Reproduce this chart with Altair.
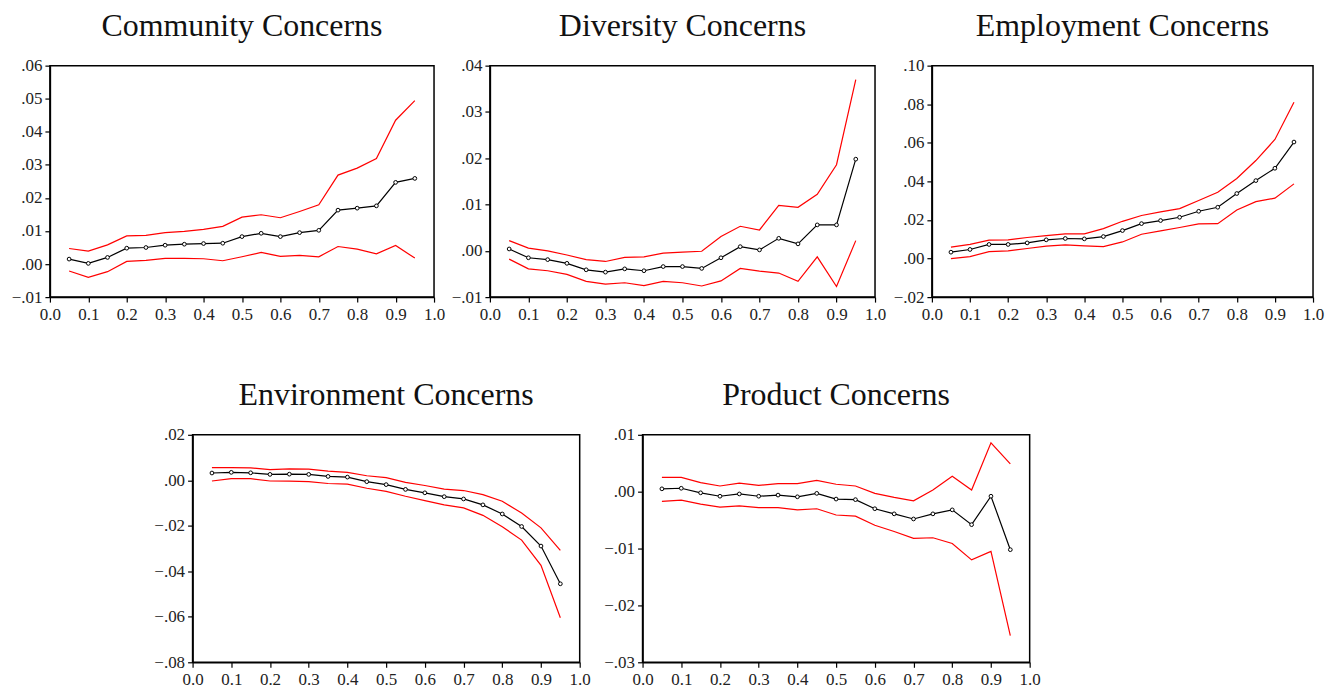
import altair as alt
import pandas as pd

FONT = "Liberation Serif"

q = [0.05, 0.10, 0.15, 0.20, 0.25, 0.30, 0.35, 0.40, 0.45, 0.50,
     0.55, 0.60, 0.65, 0.70, 0.75, 0.80, 0.85, 0.90, 0.95]
x_ticks = [0.0, 0.1, 0.2, 0.3, 0.4, 0.5, 0.6, 0.7, 0.8, 0.9, 1.0]

# Community Concerns
com_mean = [0.0015, 0.0002, 0.0020, 0.0048, 0.0050, 0.0057, 0.0060, 0.0062, 0.0063, 0.0083,
            0.0093, 0.0083, 0.0095, 0.0102, 0.0163, 0.0169, 0.0176, 0.0247, 0.0259]
com_upper = [0.0047, 0.0039, 0.0058, 0.0085, 0.0087, 0.0095, 0.0099, 0.0105, 0.0114, 0.0142,
             0.0149, 0.0140, 0.0159, 0.0179, 0.0269, 0.0290, 0.0319, 0.0435, 0.0494]
com_lower = [-0.0021, -0.0040, -0.0023, 0.0008, 0.0011, 0.0017, 0.0017, 0.0016, 0.0010, 0.0022,
             0.0035, 0.0023, 0.0026, 0.0022, 0.0053, 0.0045, 0.0031, 0.0056, 0.0018]
com_ticks = [-0.01, 0.0, 0.01, 0.02, 0.03, 0.04, 0.05, 0.06]

# Diversity Concerns
div_mean = [0.0004, -0.0015, -0.0019, -0.0027, -0.0041, -0.0046, -0.0039, -0.0043, -0.0034, -0.0034,
            -0.0038, -0.0015, 0.0009, 0.0002, 0.0027, 0.0015, 0.0056, 0.0056, 0.0198]
div_upper = [0.0022, 0.0006, 0.0000, -0.0009, -0.0019, -0.0023, -0.0014, -0.0013, -0.0005, -0.0003,
             -0.0001, 0.0031, 0.0053, 0.0045, 0.0098, 0.0094, 0.0122, 0.0186, 0.0370]
div_lower = [-0.0018, -0.0039, -0.0043, -0.0051, -0.0066, -0.0072, -0.0069, -0.0075, -0.0066, -0.0069,
             -0.0076, -0.0065, -0.0038, -0.0044, -0.0048, -0.0066, -0.0013, -0.0077, 0.0022]
div_ticks = [-0.01, 0.0, 0.01, 0.02, 0.03, 0.04]

# Employment Concerns
emp_mean = [0.0033, 0.0047, 0.0073, 0.0073, 0.0081, 0.0097, 0.0104, 0.0102, 0.0114, 0.0145,
            0.0181, 0.0197, 0.0214, 0.0245, 0.0266, 0.0337, 0.0404, 0.0468, 0.0604]
emp_upper = [0.0059, 0.0073, 0.0095, 0.0097, 0.0109, 0.0119, 0.0128, 0.0128, 0.0155, 0.0193,
             0.0223, 0.0242, 0.0259, 0.0301, 0.0344, 0.0415, 0.0508, 0.0617, 0.0810]
emp_lower = [0.0000, 0.0010, 0.0036, 0.0040, 0.0052, 0.0064, 0.0071, 0.0066, 0.0062, 0.0086,
             0.0126, 0.0143, 0.0161, 0.0180, 0.0181, 0.0252, 0.0295, 0.0313, 0.0387]
emp_ticks = [-0.02, 0.0, 0.02, 0.04, 0.06, 0.08, 0.10]

# Environment Concerns
env_mean = [0.0032, 0.0035, 0.0033, 0.0026, 0.0027, 0.0026, 0.0017, 0.0014, -0.0006, -0.0019,
            -0.0040, -0.0055, -0.0072, -0.0082, -0.0108, -0.0148, -0.0203, -0.0289, -0.0455]
env_upper = [0.0056, 0.0056, 0.0055, 0.0047, 0.0050, 0.0049, 0.0040, 0.0035, 0.0020, 0.0012,
             -0.0009, -0.0023, -0.0039, -0.0045, -0.0063, -0.0092, -0.0144, -0.0209, -0.0308]
env_lower = [-0.0003, 0.0007, 0.0007, -0.0003, -0.0004, -0.0006, -0.0014, -0.0017, -0.0035, -0.0049,
             -0.0070, -0.0089, -0.0108, -0.0121, -0.0154, -0.0204, -0.0263, -0.0374, -0.0604]
env_ticks = [-0.08, -0.06, -0.04, -0.02, 0.0, 0.02]

# Product Concerns
pro_mean = [0.0005, 0.0006, -0.0002, -0.0008, -0.0004, -0.0008, -0.0006, -0.0009, -0.0003, -0.0013,
            -0.0014, -0.0030, -0.0039, -0.0048, -0.0039, -0.0032, -0.0058, -0.0008, -0.0102]
pro_upper = [0.0025, 0.0025, 0.0016, 0.0010, 0.0015, 0.0011, 0.0014, 0.0014, 0.0020, 0.0013,
             0.0010, -0.0003, -0.0010, -0.0016, 0.0003, 0.0027, 0.0003, 0.0086, 0.0049]
pro_lower = [-0.0017, -0.0015, -0.0022, -0.0027, -0.0025, -0.0028, -0.0028, -0.0032, -0.0030, -0.0041,
             -0.0043, -0.0059, -0.0070, -0.0082, -0.0081, -0.0091, -0.0120, -0.0105, -0.0253]
pro_ticks = [-0.03, -0.02, -0.01, 0.0, 0.01]

H1 = 232
H2 = 228


def panel(title, mean, upper, lower, yticks, width, height):
    n = len(q)
    df = pd.DataFrame({
        "q": q * 3,
        "v": upper + lower + mean,
        "s": ["upper"] * n + ["lower"] * n + ["mean"] * n,
    })
    base = alt.Chart(df)
    x = alt.X("q:Q", scale=alt.Scale(domain=[0, 1], nice=False, zero=False),
              axis=alt.Axis(values=x_ticks, format=".1f", title=None))
    y = alt.Y("v:Q", scale=alt.Scale(domain=[yticks[0], yticks[-1]], nice=False, zero=False),
              axis=alt.Axis(values=yticks, title=None,
                            labelExpr="replace(format(datum.value, '.2f'), '0.', '.')"))
    red = base.transform_filter("datum.s != 'mean'").mark_line(
        color="#ff0000", strokeWidth=1.2).encode(x=x, y=y, detail="s:N")
    blk = base.transform_filter("datum.s == 'mean'").mark_line(
        color="black", strokeWidth=1.2).encode(x=x, y=y)
    pts = base.transform_filter("datum.s == 'mean'").mark_point(
        shape="circle", filled=True, fill="white", stroke="black",
        strokeWidth=1, size=14, opacity=1).encode(x=x, y=y)
    ttl = alt.Chart(pd.DataFrame({"t": [title]})).mark_text(
        font=FONT, fontSize=32, color="#111", align="center", baseline="alphabetic"
    ).encode(x=alt.value(width / 2), y=alt.value(-30), text="t:N")
    return alt.layer(red, blk, pts, ttl).properties(width=width, height=height)


def spacer(w, h):
    return alt.Chart(pd.DataFrame({"a": [0]})).mark_point(opacity=0).encode(
        x=alt.value(0), y=alt.value(0)
    ).properties(width=w, height=h, view=alt.ViewBackground(stroke="transparent"))


p1 = panel("Community Concerns", com_mean, com_upper, com_lower, com_ticks, 385, H1)
p2 = panel("Diversity Concerns", div_mean, div_upper, div_lower, div_ticks, 386, H1)
p3 = panel("Employment Concerns", emp_mean, emp_upper, emp_lower, emp_ticks, 382, H1)
p4 = panel("Environment Concerns", env_mean, env_upper, env_lower, env_ticks, 388, H2)
p5 = panel("Product Concerns", pro_mean, pro_upper, pro_lower, pro_ticks, 388, H2)

row1 = alt.hconcat(p1, spacer(56, H1), p2, spacer(57, H1), p3, spacing=0, bounds="flush")
row2 = alt.hconcat(spacer(143, H2), p4, spacer(63, H2), p5, spacing=0, bounds="flush")

chart = alt.vconcat(row1, row2, spacing=55).properties(
    padding={"left": 2, "right": 0, "top": 0, "bottom": 0}
).configure_view(
    stroke="black", strokeWidth=1.5
).configure_axis(
    labelFont=FONT, labelFontSize=17, labelColor="#222",
    domainColor="black", domainWidth=1.5,
    tickColor="black", tickWidth=1.2, tickSize=5,
    grid=False, labelFlush=False, labelOverlap=False,
).configure_axisX(labelPadding=4).configure_axisY(labelPadding=3)

chart.save("out.html", embed_options={"renderer": "svg", "actions": False})
